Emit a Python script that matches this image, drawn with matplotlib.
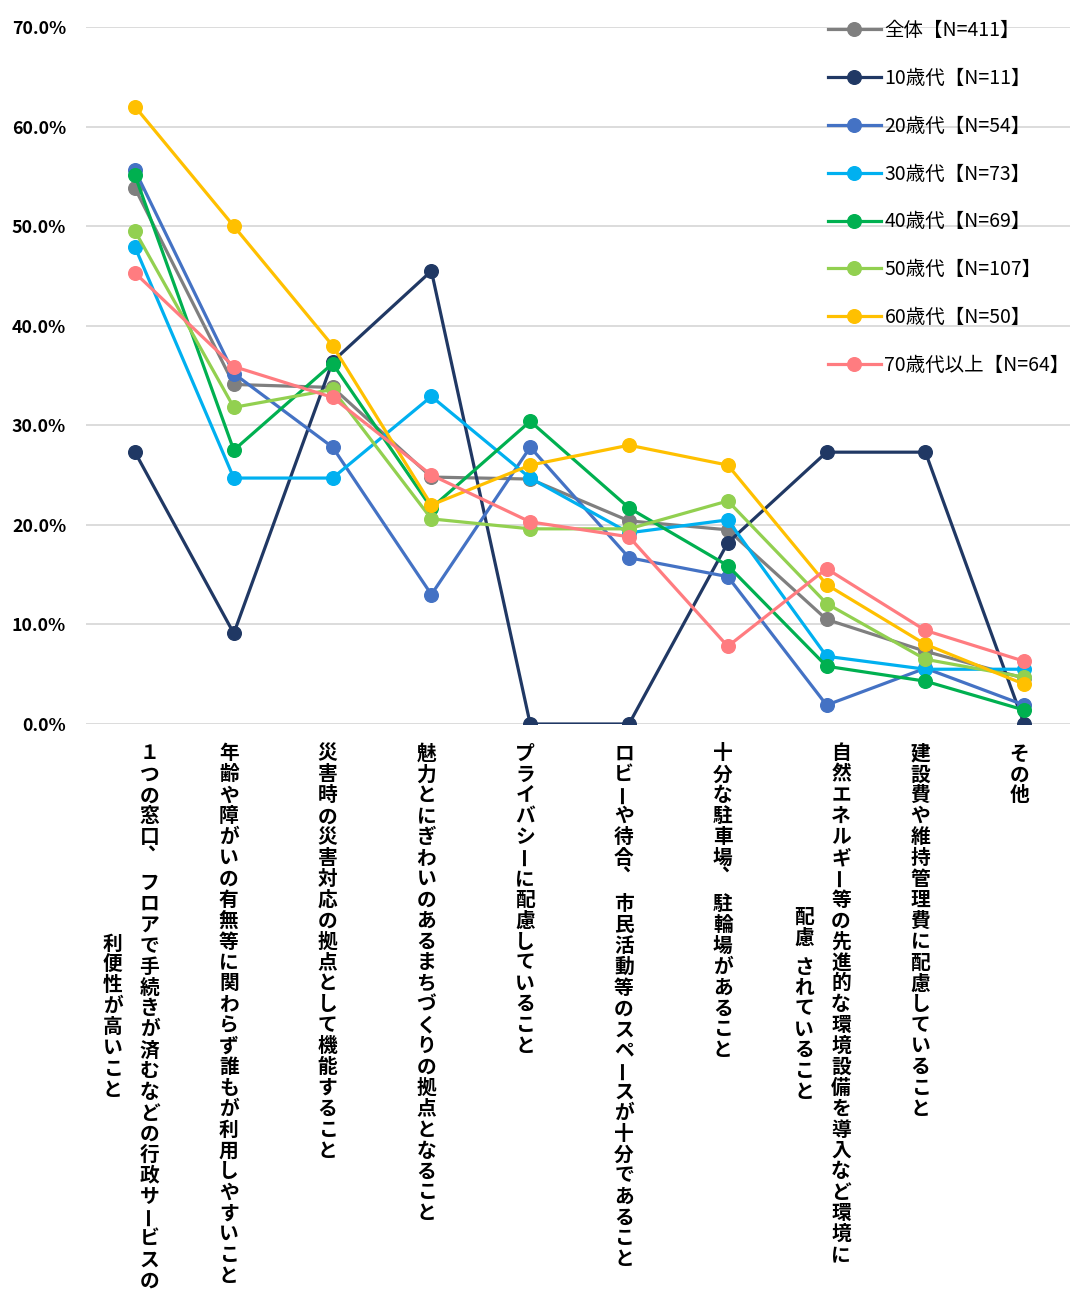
import numpy as np
import matplotlib.pyplot as plt

plt.rcParams['font.family'] = ['Noto Sans CJK JP', 'DejaVu Sans']

# categories (vertical labels, right column first)
labels = [
    ["１つの窓口、　フロアで手続きが済むなどの行政サービスの", "利便性が高いこと"],
    ["年齢や障がいの有無等に関わらず誰もが利用しやすいこと"],
    ["災害時の災害対応の拠点として機能すること"],
    ["魅力とにぎわいのあるまちづくりの拠点となること"],
    ["プライバシーに配慮していること"],
    ["ロビーや待合、　市民活動等のスペースが十分であること"],
    ["十分な駐車場、　駐輪場があること"],
    ["自然エネルギー等の先進的な環境設備を導入など環境に", "配慮 されていること"],
    ["建設費や維持管理費に配慮していること"],
    ["その他"],
]

series_names = ["全体【N=411】", "10歳代【N=11】", "20歳代【N=54】", "30歳代【N=73】",
                "40歳代【N=69】", "50歳代【N=107】", "60歳代【N=50】", "70歳代以上【N=64】"]

total = [53.8, 34.1, 33.8, 24.8, 24.6, 20.4, 19.5, 10.5, 7.3, 4.6]
age10 = [27.3, 9.1, 36.4, 45.5, 0.0, 0.0, 18.2, 27.3, 27.3, 0.0]
age20 = [55.6, 35.2, 27.8, 13.0, 27.8, 16.7, 14.8, 1.9, 5.6, 1.9]
age30 = [47.9, 24.7, 24.7, 32.9, 24.7, 19.2, 20.5, 6.8, 5.5, 5.5]
age40 = [55.1, 27.5, 36.2, 21.7, 30.4, 21.7, 15.9, 5.8, 4.3, 1.4]
age50 = [49.5, 31.8, 33.6, 20.6, 19.6, 19.6, 22.4, 12.1, 6.5, 4.7]
age60 = [62.0, 50.0, 38.0, 22.0, 26.0, 28.0, 26.0, 14.0, 8.0, 4.0]
age70 = [45.3, 35.9, 32.8, 25.0, 20.3, 18.8, 7.8, 15.6, 9.4, 6.3]

values = [total, age10, age20, age30, age40, age50, age60, age70]
colors = ['#7f7f7f', '#203864', '#4472c4', '#00b0f0', '#00b050', '#92d050', '#ffc000', '#ff7c80']

W, H = 1070, 1293
fig = plt.figure(figsize=(W / 100, H / 100), dpi=100)
ax = fig.add_axes([85.6 / W, (H - 724) / H, 988 / W, 697 / H])

x = np.arange(len(labels))
for name, vals, col in zip(series_names, values, colors):
    ax.plot(x, vals, color=col, lw=2.3, marker='o', ms=9.8, label=name)

ax.set_xlim(-0.5, len(labels) - 0.5)
ax.set_ylim(0, 70)
ax.set_yticks(np.arange(0, 71, 10))
ax.set_yticklabels([f"{v:.1f}%" for v in np.arange(0, 71, 10)], fontsize=12.8, fontweight='bold')
ax.set_xticks([])
ax.tick_params(axis='y', length=0, pad=14)
ax.grid(axis='y', color='#d9d9d9', lw=1.3)
ax.set_axisbelow(True)
for s in ax.spines.values():
    s.set_visible(False)

ax.legend(loc='upper left', bbox_to_anchor=(828 / W, 1 - 20 / H), bbox_transform=fig.transFigure,
          frameon=False, fontsize=14, handlelength=2.7, handletextpad=0.2,
          labelspacing=1.38, borderpad=0, borderaxespad=0)

# vertical (tategaki) category labels
fs = 14.2
fs_px = fs * 100 / 72
step = 20.9
col_gap = 37
y_top = 752
adv = {'、': 0.6, '　': 0.6, ' ': 0.4}


def col_len(line):
    return sum(adv.get(ch, 1.0) for ch in line[:-1])


for i, cols in enumerate(labels):
    xc = ax.transData.transform((i, 0))[0]
    n = len(cols)
    lens = [col_len(c) for c in cols]
    longest = max(lens)
    for j, line in enumerate(cols):
        if n == 1:
            cx = xc - 5
        else:
            cx = xc - 4 + col_gap * ((n - 1) / 2 - j)
        y = y_top + (longest - lens[j]) * step / 2
        prev_y = y
        prev = None
        for ch in line:
            if prev is not None:
                prev_y = y
                y += step * adv.get(prev, 1.0)
            prev = ch
            if ch in ' 　':
                continue
            if ch == 'ー':
                fig.text(cx / W, 1 - y / H, ch, fontsize=fs, fontweight='bold',
                         rotation=90, ha='center', va='center')
            elif ch == '、':
                # vertical comma sits just below the previous char, to the right
                by = prev_y + 0.65 * step + 0.08 * fs_px
                fig.text((cx + 8) / W, 1 - by / H, ch, fontsize=fs,
                         fontweight='bold', ha='center', va='baseline')
            else:
                fig.text(cx / W, 1 - (y + 0.38 * fs_px) / H, ch, fontsize=fs,
                         fontweight='bold', ha='center', va='baseline')

fig.savefig('out.png', dpi=100)
